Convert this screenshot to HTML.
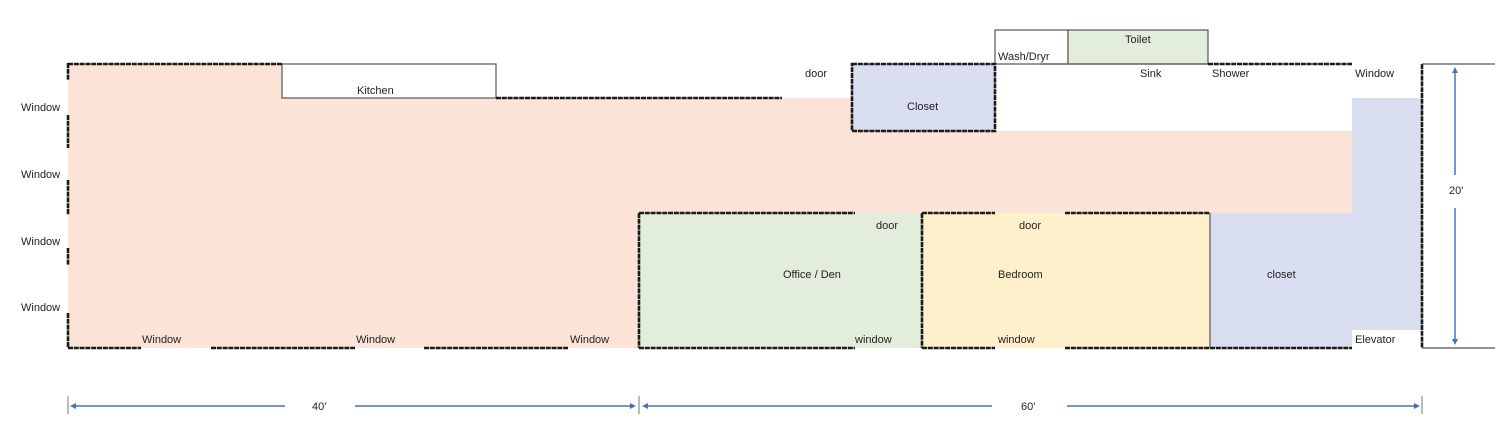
<!DOCTYPE html>
<html><head><style>
html,body{margin:0;padding:0;background:#fff;}
svg{display:block;font-family:"Liberation Sans",sans-serif;}
text{font-size:11px;fill:#222;}
</style></head><body>
<svg width="1495" height="430" viewBox="0 0 1495 430" xmlns="http://www.w3.org/2000/svg">
<polygon points="68,64 282,64 282,98 1352,98 1352,213 639,213 639,348 68,348" fill="#fce3d7"/>
<rect x="282" y="64" width="214" height="34" fill="#fff" stroke="#555" stroke-width="1.2"/>
<rect x="995" y="64" width="357" height="67" fill="#fff"/>
<rect x="852" y="64" width="143" height="67" fill="#d9dff0"/>
<rect x="1352" y="98" width="70" height="232" fill="#d9dff0"/>
<rect x="1210" y="213" width="142" height="135" fill="#d9dff0"/>
<rect x="639" y="213" width="283" height="135" fill="#e2eedb"/>
<rect x="922" y="213" width="288" height="135" fill="#fff0cc"/>
<rect x="995" y="30" width="73" height="34" fill="#fff" stroke="#555" stroke-width="1.2"/>
<rect x="1068" y="30" width="140" height="34" fill="#e2eedb" stroke="#555" stroke-width="1.2"/>
<g stroke="#1a1a1a" stroke-width="2.6" fill="none" stroke-dasharray="5 0.8">
<line x1="68" y1="63" x2="68" y2="80"/>
<line x1="68" y1="115" x2="68" y2="148"/>
<line x1="68" y1="180" x2="68" y2="215"/>
<line x1="68" y1="248" x2="68" y2="265"/>
<line x1="68" y1="313" x2="68" y2="348"/>
<line x1="68" y1="64" x2="282" y2="64"/>
<line x1="496" y1="98" x2="782" y2="98"/>
<line x1="68" y1="348" x2="141" y2="348"/>
<line x1="211" y1="348" x2="355" y2="348"/>
<line x1="424" y1="348" x2="568" y2="348"/>
<line x1="639" y1="348" x2="855" y2="348"/>
<line x1="922" y1="348" x2="995" y2="348"/>
<line x1="1065" y1="348" x2="1352" y2="348"/>
<line x1="639" y1="213" x2="855" y2="213"/>
<line x1="639" y1="213" x2="639" y2="348"/>
<line x1="922" y1="213" x2="922" y2="348"/>
<line x1="922" y1="213" x2="995" y2="213"/>
<line x1="1065" y1="213" x2="1210" y2="213"/>
<rect x="852" y="64" width="143" height="67"/>
<line x1="1208" y1="64" x2="1352" y2="64"/>
<line x1="1422" y1="64" x2="1422" y2="348"/>
</g>
<g stroke="#555" stroke-width="1.2">
<line x1="1210" y1="213" x2="1210" y2="348"/>
<line x1="1040" y1="64" x2="1208" y2="64"/>
<line x1="1422" y1="64" x2="1495" y2="64"/>
<line x1="1422" y1="348" x2="1495" y2="348"/>
</g>
<g stroke="#4a72b8" stroke-width="1.5" fill="#4a72b8">
<line x1="68" y1="396" x2="68" y2="414" stroke="#777" stroke-width="1"/>
<line x1="639" y1="396" x2="639" y2="414" stroke="#777" stroke-width="1"/>
<line x1="1422" y1="396" x2="1422" y2="414" stroke="#777" stroke-width="1"/>
<line x1="72" y1="406" x2="285" y2="406"/>
<line x1="355" y1="406" x2="632" y2="406"/>
<line x1="646" y1="406" x2="992" y2="406"/>
<line x1="1067" y1="406" x2="1416" y2="406"/>
<line x1="1455" y1="72" x2="1455" y2="175"/>
<line x1="1455" y1="208" x2="1455" y2="340"/>
<polygon points="70,406 76,403 76,409" stroke="none"/>
<polygon points="636,406 630,403 630,409" stroke="none"/>
<polygon points="642,406 648,403 648,409" stroke="none"/>
<polygon points="1420,406 1414,403 1414,409" stroke="none"/>
<polygon points="1455,67 1452,73 1458,73" stroke="none"/>
<polygon points="1455,345 1452,339 1458,339" stroke="none"/>
</g>
<text x="357" y="94">Kitchen</text>
<text x="21" y="111">Window</text>
<text x="21" y="178">Window</text>
<text x="21" y="245">Window</text>
<text x="21" y="311">Window</text>
<text x="142" y="343">Window</text>
<text x="356" y="343">Window</text>
<text x="570" y="343">Window</text>
<text x="805" y="77">door</text>
<text x="907" y="110">Closet</text>
<text x="998" y="60">Wash/Dryr</text>
<text x="1125" y="43">Toilet</text>
<text x="1140" y="77">Sink</text>
<text x="1212" y="77">Shower</text>
<text x="1355" y="77">Window</text>
<text x="1449" y="194">20'</text>
<text x="876" y="229">door</text>
<text x="1019" y="229">door</text>
<text x="783" y="278">Office / Den</text>
<text x="998" y="278">Bedroom</text>
<text x="1267" y="278">closet</text>
<text x="855" y="343">window</text>
<text x="998" y="343">window</text>
<text x="1355" y="343">Elevator</text>
<text x="312" y="410">40'</text>
<text x="1021" y="410">60'</text>
</svg>
</body></html>
